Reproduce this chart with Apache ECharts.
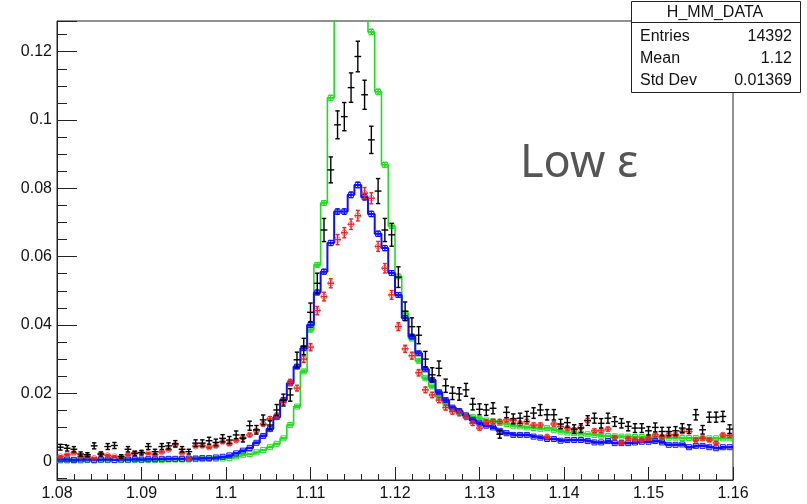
<!DOCTYPE html>
<html><head><meta charset="utf-8">
<script src="https://cdn.jsdelivr.net/npm/echarts@6/dist/echarts.min.js"></script>
<style>html,body{margin:0;padding:0;background:#fff}#c{width:807px;height:504px}</style>
</head><body><div id="c"></div>
<script>
// Histogram binning (ROOT default 100 bins)
const xMin = 1.08, xMax = 1.16, nBins = 100;
const yMin = -0.0054, yMax = 0.129;
const yMajor = 0.02;

const black = [
 0.0042,0.0039,0.0036,0.0022,0.0020,0.0046,0.0022,0.0044,0.0047,0.0015,
 0.0036,0.0024,0.0026,0.0044,0.0029,0.0044,0.0046,0.0052,0.0036,0.0029,
 0.0054,0.0054,0.0061,0.0056,0.0068,0.0063,0.0078,0.0068,0.0105,0.0093,
 0.0122,0.0107,0.0151,0.0180,0.0195,0.0298,0.0337,0.0437,0.0522,0.0678,
 0.0854,0.0986,0.1010,0.1095,0.1186,0.1074,0.0942,0.0792,0.0678,0.0664,
 0.0540,0.0440,0.0395,0.0370,0.0300,0.0254,0.0273,0.0222,0.0200,0.0198,
 0.0210,0.0168,0.0153,0.0151,0.0156,0.0080,0.0144,0.0125,0.0127,0.0132,
 0.0142,0.0151,0.0137,0.0137,0.0110,0.0114,0.0095,0.0098,0.0120,0.0127,
 0.0112,0.0127,0.0117,0.0112,0.0103,0.0098,0.0098,0.0090,0.0100,0.0088,
 0.0088,0.0090,0.0098,0.0095,0.0137,0.0093,0.0130,0.0130,0.0132,0.0095];

const red = [
 0.0015,0.0020,0.0025,0.0015,0.0015,0.0010,0.0022,0.0018,0.0015,0.0012,
 0.0020,0.0025,0.0026,0.0024,0.0020,0.0028,0.0035,0.0049,0.0025,0.0008,
 0.0045,0.0046,0.0042,0.0046,0.0058,0.0052,0.0062,0.0070,0.0078,0.0090,
 0.0110,0.0125,0.0135,0.0175,0.0232,0.0215,0.0300,0.0335,0.0442,0.0483,
 0.0522,0.0650,0.0670,0.0695,0.0720,0.0786,0.0771,0.0630,0.0566,0.0488,
 0.0395,0.0330,0.0310,0.0260,0.0210,0.0195,0.0180,0.0158,0.0146,0.0141,
 0.0130,0.0112,0.0098,0.0115,0.0117,0.0117,0.0122,0.0120,0.0112,0.0117,
 0.0107,0.0107,0.0073,0.0110,0.0102,0.0098,0.0093,0.0100,0.0120,0.0090,
 0.0090,0.0095,0.0070,0.0055,0.0067,0.0064,0.0063,0.0068,0.0078,0.0073,
 0.0078,0.0078,0.0088,0.0088,0.0063,0.0068,0.0063,0.0054,0.0078,0.0076];

const blue = [
 0.0006,0.0006,0.0005,0.0006,0.0006,0.0005,0.0006,0.0006,0.0005,0.0006,
 0.0006,0.0007,0.0006,0.0007,0.0007,0.0008,0.0008,0.0008,0.0008,0.0009,
 0.0009,0.0010,0.0010,0.0012,0.0014,0.0018,0.0024,0.0032,0.0040,0.0055,
 0.0075,0.0095,0.0130,0.0180,0.0229,0.0278,0.0332,0.0400,0.0495,0.0556,
 0.0640,0.0732,0.0732,0.0781,0.0810,0.0774,0.0725,0.0667,0.0625,0.0552,
 0.0488,0.0420,0.0366,0.0317,0.0270,0.0239,0.0203,0.0180,0.0158,0.0148,
 0.0135,0.0122,0.0112,0.0105,0.0100,0.0090,0.0083,0.0078,0.0078,0.0078,
 0.0073,0.0070,0.0066,0.0066,0.0061,0.0063,0.0063,0.0063,0.0060,0.0056,
 0.0056,0.0060,0.0054,0.0054,0.0054,0.0056,0.0058,0.0058,0.0060,0.0056,
 0.0049,0.0049,0.0050,0.0042,0.0046,0.0046,0.0042,0.0039,0.0042,0.0042];

const green = [
 0.0003,0.0003,0.0003,0.0003,0.0004,0.0003,0.0004,0.0004,0.0004,0.0004,
 0.0004,0.0005,0.0004,0.0005,0.0005,0.0005,0.0006,0.0006,0.0006,0.0006,
 0.0007,0.0007,0.0008,0.0008,0.0009,0.0010,0.0015,0.0020,0.0022,0.0027,
 0.0034,0.0042,0.0052,0.0068,0.0107,0.0161,0.0264,0.0386,0.0576,0.0757,
 0.1065,0.1450,0.1700,0.1850,0.1800,0.1550,0.1258,0.1083,0.0869,0.0690,
 0.0542,0.0434,0.0360,0.0295,0.0244,0.0220,0.0190,0.0170,0.0155,0.0145,
 0.0135,0.0130,0.0125,0.0120,0.0118,0.0113,0.0110,0.0105,0.0103,0.0100,
 0.0098,0.0096,0.0098,0.0093,0.0088,0.0085,0.0083,0.0082,0.0080,0.0078,
 0.0076,0.0075,0.0074,0.0073,0.0073,0.0072,0.0072,0.0071,0.0071,0.0070,
 0.0070,0.0070,0.0069,0.0069,0.0069,0.0068,0.0068,0.0068,0.0068,0.0068];

const statsTitle = 'H_MM_DATA';
const statsLabels = ['Entries', 'Mean', 'Std Dev'];
const statsValues = ['14392', '1.12', '0.01369'];
const annotation = 'Low \u03b5';

const binW = (xMax - xMin) / nBins;
function stepData(vals) {
  const d = vals.map((v, i) => [xMin + i * binW, v]);
  d.push([xMax, vals[vals.length - 1]]);
  return d;
}
function errData(vals, k) {
  return vals.map((v, i) => [xMin + (i + 0.5) * binW, v, k * Math.sqrt(Math.max(v, 0))]);
}
function errRender(color, marker, cap, lw) {
  return function (params, api) {
    const x = api.value(0), y = api.value(1), e = api.value(2);
    const c = api.coord([x, y]);
    const l = api.coord([x - binW / 2, y])[0], r = api.coord([x + binW / 2, y])[0];
    const t = api.coord([x, y + e])[1], b = api.coord([x, y - e])[1];
    const st = { stroke: color, lineWidth: lw, fill: null };
    const ch = [
      { type: 'line', shape: { x1: l, y1: c[1], x2: r, y2: c[1] }, style: st },
      { type: 'line', shape: { x1: c[0], y1: t, x2: c[0], y2: b }, style: st },
      { type: 'line', shape: { x1: c[0] - cap, y1: t, x2: c[0] + cap, y2: t }, style: st },
      { type: 'line', shape: { x1: c[0] - cap, y1: b, x2: c[0] + cap, y2: b }, style: st }
    ];
    if (marker === 'square') ch.push({ type: 'rect', shape: { x: c[0] - 2.5, y: c[1] - 2.5, width: 5, height: 5 }, style: { fill: null, stroke: color, lineWidth: 1 } });
    if (marker === 'circle') ch.push({ type: 'circle', shape: { cx: c[0], cy: c[1], r: 2.8 }, style: { fill: null, stroke: color, lineWidth: 1, opacity: 0.6 } });
    return { type: 'group', children: ch };
  };
}
function histLine(vals, color, w, z) {
  return { type: 'line', data: stepData(vals), step: 'end', symbol: 'none', clip: true,
    lineStyle: { color: color, width: w }, z: z, silent: true, animation: false };
}
function errSeries(vals, color, k, marker, cap, lw, z) {
  return { type: 'custom', data: errData(vals, k), renderItem: errRender(color, marker, cap, lw), clip: true, z: z, silent: true, animation: false };
}

const chart = echarts.init(document.getElementById('c'), null, { renderer: 'canvas' });
const font = 'Liberation Sans, Arial, sans-serif';
chart.setOption({
  animation: false,
  backgroundColor: '#fff',
  grid: { left: 57, right: 74, top: 21, bottom: 24, show: true, borderColor: '#222', borderWidth: 1, backgroundColor: 'transparent' },
  xAxis: {
    type: 'value', min: xMin, max: xMax, interval: 0.01,
    axisLine: { show: true, onZero: false, lineStyle: { color: '#222', width: 1 } },
    axisTick: { show: true, inside: true, length: 13, lineStyle: { color: '#222' } },
    minorTick: { show: true, splitNumber: 5, length: 6, lineStyle: { color: '#222' } },
    splitLine: { show: false },
    axisLabel: { color: '#111', fontSize: 16, fontFamily: font, margin: 6 }
  },
  yAxis: {
    type: 'value', min: yMin, max: yMax, splitNumber: 7,
    axisLine: { show: true, onZero: false, lineStyle: { color: '#222', width: 1 } },
    axisTick: { show: true, inside: true, length: 20, lineStyle: { color: '#222' } },
    minorTick: { show: true, splitNumber: 4, length: 10, lineStyle: { color: '#222' } },
    splitLine: { show: false },
    axisLabel: { color: '#111', fontSize: 16, fontFamily: font, margin: 5,
      formatter: function (v) {
        const q = v / yMajor;
        if (Math.abs(q - Math.round(q)) > 1e-6) return '';
        return String(+v.toFixed(4));
      } }
  },
  series: [
    histLine(green, '#22dd22', 1.6, 2),
    errSeries(green, '#22dd22', 0.0023, 'square', 2, 1.3, 3),
    histLine(blue, '#1010ff', 2, 4),
    errSeries(blue, '#1010ff', 0.003, 'square', 2, 1.3, 5),
    errSeries(red, '#ee2222', 0.0058, 'circle', 2, 1.4, 6),
    errSeries(black, '#000000', 0.013, null, 2.2, 1.4, 7)
  ],
  graphic: [
    { type: 'text', left: 520, top: 142, style: { text: annotation, fontSize: 45, fontFamily: 'Noto Sans, Open Sans, sans-serif', fill: '#555' } },
    { type: 'rect', shape: { x: 631.5, y: 1.5, width: 169, height: 91 }, style: { fill: '#fff', stroke: '#222', lineWidth: 1 }, z: 100 },
    { type: 'line', shape: { x1: 631.5, y1: 22.5, x2: 800.5, y2: 22.5 }, style: { stroke: '#222', lineWidth: 1 }, z: 101 },
    { type: 'text', x: 715, y: 12.5, style: { text: statsTitle, fontSize: 16, fontFamily: font, fill: '#111', align: 'center', verticalAlign: 'middle' }, z: 101 },
    { type: 'group', z: 101, children: statsLabels.map((s, i) => ({ type: 'text', x: 640, y: 37 + i * 22, style: { text: s, fontSize: 16, fontFamily: font, fill: '#111', verticalAlign: 'middle' }, z: 101 })) },
    { type: 'group', z: 101, children: statsValues.map((s, i) => ({ type: 'text', x: 792, y: 37 + i * 22, style: { text: s, fontSize: 16, fontFamily: font, fill: '#111', align: 'right', verticalAlign: 'middle' }, z: 101 })) }
  ]
});
</script></body></html>
